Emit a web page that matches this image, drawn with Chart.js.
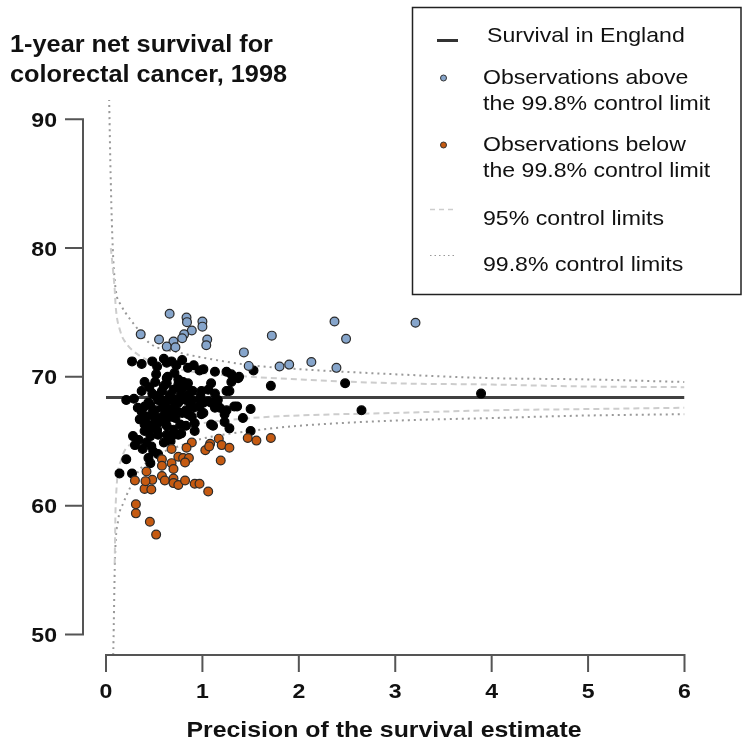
<!DOCTYPE html>
<html>
<head>
<meta charset="utf-8">
<title>1-year net survival for colorectal cancer, 1998</title>
<script src="https://cdn.jsdelivr.net/npm/chart.js@4.4.1/dist/chart.umd.min.js"></script>
<style>
    html, body { margin: 0; padding: 0; background: #fff; }
    #chart { display: block; }
</style>
</head>
<body>
<canvas id="chart" width="743" height="747"></canvas>
<script>
// values: [precision, survival %]
const xTicks = [0, 1, 2, 3, 4, 5, 6];
const yTicks = [50, 60, 70, 80, 90];
const englandSurvival = 68.4;

const abovePoints = [
    [0.66, 74.9], [0.835, 74.6], [0.84, 74.25], [1.0, 74.3], [1.0, 73.9], [0.89, 73.6],
    [0.36, 73.3], [0.81, 73.3], [0.79, 73.0], [0.55, 72.9], [0.70, 72.75], [1.05, 72.9],
    [1.04, 72.45], [0.63, 72.35], [0.72, 72.3], [1.43, 71.9], [1.48, 70.85], [1.72, 73.2],
    [1.80, 70.8], [1.90, 70.95], [2.13, 71.15], [2.37, 74.3], [2.49, 72.95], [2.39, 70.7],
    [3.21, 74.2]
];

const belowPoints = [
    [0.89, 64.9], [0.68, 64.4], [0.835, 64.5], [1.08, 64.8], [1.17, 65.2], [1.20, 64.7],
    [1.28, 64.5], [1.03, 64.3], [1.07, 64.6], [1.47, 65.25], [1.56, 65.05], [1.71, 65.25],
    [0.58, 63.6], [0.68, 63.3], [0.75, 63.8], [0.80, 63.7], [0.86, 63.7], [0.82, 63.35],
    [0.58, 63.1], [0.70, 62.85], [1.19, 63.5], [0.42, 62.65], [0.30, 61.95], [0.48, 62.0],
    [0.58, 62.3], [0.61, 61.95], [0.70, 62.1], [0.70, 61.75], [0.75, 61.6], [0.82, 61.95],
    [0.92, 61.7], [0.97, 61.7], [1.06, 61.1], [0.40, 61.3], [0.47, 61.25], [0.41, 61.9],
    [0.31, 60.1], [0.31, 59.4], [0.455, 58.75], [0.52, 57.75]
];

const withinPoints = [
    [0.27, 71.2], [0.37, 71.0], [0.48, 71.2], [0.53, 70.8], [0.60, 71.4], [0.63, 71.1],
    [0.68, 71.2], [0.73, 70.9], [0.79, 71.3], [0.85, 70.7], [0.91, 70.9], [0.97, 70.5],
    [1.01, 70.6], [1.13, 70.4], [1.25, 70.4], [1.30, 70.2], [1.37, 69.9], [1.53, 70.5],
    [0.64, 70.0], [0.71, 70.3], [0.75, 69.8], [0.52, 70.2], [0.85, 69.5], [0.40, 69.6],
    [0.51, 69.6], [0.63, 69.9], [0.63, 69.5], [0.75, 69.4], [0.80, 69.6], [0.84, 69.3],
    [0.78, 69.0], [1.09, 69.5], [1.30, 69.6], [1.38, 70.0], [1.71, 69.3], [2.48, 69.5],
    [0.37, 68.9], [0.48, 68.7], [0.58, 68.9], [0.66, 68.6], [0.77, 68.5], [0.85, 68.6],
    [0.90, 68.9], [0.99, 68.9], [1.06, 69.0], [1.13, 68.7], [1.25, 68.9], [1.28, 68.9],
    [0.21, 68.2], [0.29, 68.3], [0.54, 68.2], [0.58, 68.2], [0.64, 68.2], [0.68, 68.4],
    [0.80, 68.4], [0.83, 68.2], [0.89, 68.2], [0.97, 68.2], [0.98, 68.5], [1.06, 68.1],
    [1.16, 68.2], [3.89, 68.7],
    [0.40, 67.7], [0.46, 67.8], [0.51, 67.4], [0.58, 67.6], [0.63, 67.6], [0.68, 67.4],
    [0.73, 67.4], [0.83, 67.4], [0.91, 67.6], [0.97, 67.7], [1.01, 68.0], [1.01, 67.2],
    [1.09, 68.0], [1.13, 67.6], [1.18, 67.6], [1.25, 67.4], [1.33, 67.7], [1.36, 67.7],
    [1.50, 67.5], [2.65, 67.4],
    [0.37, 67.3], [0.42, 66.9], [0.48, 67.2], [0.56, 66.8], [0.61, 67.1], [0.68, 66.9],
    [0.79, 67.2], [0.85, 67.1], [0.89, 66.9], [0.99, 67.1], [1.23, 67.1], [1.42, 66.8],
    [0.35, 66.7], [0.42, 66.4], [0.49, 66.3], [0.56, 66.5], [0.63, 66.2], [0.70, 65.9],
    [0.77, 66.3], [0.83, 66.2], [0.92, 66.4], [1.09, 66.3], [1.11, 66.2], [1.23, 66.5],
    [1.28, 66.0], [1.50, 65.8],
    [0.28, 65.4], [0.40, 65.8], [0.46, 65.4], [0.54, 65.5], [0.63, 65.5], [0.68, 65.4],
    [0.75, 65.5], [0.78, 65.6], [0.92, 65.8],
    [0.30, 64.7], [0.42, 64.9], [0.47, 64.6], [0.49, 64.2], [0.54, 64.0], [0.60, 64.9],
    [0.67, 65.0], [0.21, 63.6], [0.44, 63.7], [0.46, 63.3], [0.14, 62.5], [0.27, 62.5],
    [0.44, 68.0], [0.50, 66.9], [0.60, 67.9], [0.71, 67.9], [0.53, 65.9], [0.62, 66.6],
    [0.72, 66.8], [0.40, 66.3], [0.46, 66.0], [0.52, 68.5], [0.75, 68.0], [0.88, 67.8],
    [0.45, 69.2], [0.60, 69.3], [0.70, 69.0], [0.34, 65.1], [0.38, 64.4], [0.33, 67.6]
];

const upper95 = [
    [0.05, 80.0], [0.07, 78.5], [0.09, 76.8], [0.1, 75.5], [0.15, 73.5], [0.2, 72.7],
    [0.3, 71.9], [0.5, 71.1], [0.75, 70.6], [1, 70.3], [1.5, 70.0], [2, 69.8], [3, 69.5],
    [4, 69.4], [5, 69.25], [6, 69.2]
];
const lower95 = [
    [0.09, 55.5], [0.095, 58.0], [0.1, 60.0], [0.16, 63.6], [0.28, 64.9], [0.5, 65.6],
    [1, 66.4], [1.5, 66.8], [2, 67.0], [3, 67.2], [4, 67.4], [5, 67.5], [6, 67.6]
];
const upper998 = [
    [0.03, 92.5], [0.05, 85.0], [0.07, 80.0], [0.093, 77.3], [0.114, 76.2], [0.145, 75.7],
    [0.2, 75.0], [0.3, 74.0], [0.455, 72.6], [0.75, 71.9], [1, 71.5], [1.5, 70.9],
    [2, 70.6], [3, 70.2], [4, 69.9], [5, 69.8], [6, 69.6]
];
const lower998 = [
    [0.07, 47.0], [0.076, 48.8], [0.093, 55.8], [0.127, 58.9], [0.18, 60.2], [0.25, 61.4],
    [0.33, 62.6], [0.5, 63.8], [0.75, 64.6], [1, 65.2], [1.5, 65.8], [2, 66.2], [3, 66.6],
    [4, 66.8], [5, 67.0], [6, 67.1]
];

(function () {
    'use strict';

    const FONT = '"Liberation Sans", Arial, sans-serif';
    const STRETCH = 1.1;
    const BLUE = '#86a5cb';
    const ORANGE = '#c55a11';
    const DASH_GREY = '#cdcdcd';
    const DOT_GREY = '#999999';

    function toPoints(pairs) {
        return pairs.map(function (p) {
            return { x: p[0], y: p[1] };
        });
    }

    function text(ctx, str, x, y, size, bold, align) {
        ctx.save();
        ctx.font = (bold ? 'bold ' : '') + size + 'px ' + FONT;
        ctx.textAlign = align || 'left';
        ctx.textBaseline = 'alphabetic';
        ctx.fillStyle = '#111';
        ctx.translate(x, y);
        ctx.scale(STRETCH, 1);
        ctx.fillText(str, 0, 0);
        ctx.restore();
    }

    function dot(ctx, x, y, r, fill) {
        ctx.beginPath();
        ctx.arc(x, y, r, 0, Math.PI * 2);
        ctx.fillStyle = fill;
        ctx.fill();
        ctx.lineWidth = 1;
        ctx.strokeStyle = '#333';
        ctx.stroke();
    }

    function seg(ctx, x1, x2, y, color, width, dash) {
        ctx.save();
        ctx.beginPath();
        ctx.setLineDash(dash || []);
        ctx.strokeStyle = color;
        ctx.lineWidth = width;
        ctx.moveTo(x1, y);
        ctx.lineTo(x2, y);
        ctx.stroke();
        ctx.restore();
    }

    // R-style detached axes, title and boxed legend
    const decorations = {
        id: 'decorations',
        afterDraw: function (chart) {
            const ctx = chart.ctx;
            const xs = chart.scales.x;
            const ys = chart.scales.y;
            const axisX = 83;
            const axisY = 655;

            ctx.save();
            ctx.strokeStyle = '#555';
            ctx.lineWidth = 2;
            ctx.beginPath();
            const yTop = ys.getPixelForValue(yTicks[yTicks.length - 1]);
            const yBot = ys.getPixelForValue(yTicks[0]);
            ctx.moveTo(65, yTop);
            ctx.lineTo(axisX, yTop);
            ctx.lineTo(axisX, yBot);
            ctx.lineTo(65, yBot);
            yTicks.slice(1, -1).forEach(function (v) {
                const p = ys.getPixelForValue(v);
                ctx.moveTo(65, p);
                ctx.lineTo(axisX, p);
            });
            const xL = xs.getPixelForValue(xTicks[0]);
            const xR = xs.getPixelForValue(xTicks[xTicks.length - 1]);
            ctx.moveTo(xL, 672);
            ctx.lineTo(xL, axisY);
            ctx.lineTo(xR, axisY);
            ctx.lineTo(xR, 672);
            xTicks.slice(1, -1).forEach(function (v) {
                const p = xs.getPixelForValue(v);
                ctx.moveTo(p, axisY);
                ctx.lineTo(p, 672);
            });
            ctx.stroke();
            ctx.restore();

            yTicks.forEach(function (v) {
                text(ctx, String(v), 57, ys.getPixelForValue(v) + 7.5, 21, true, 'right');
            });
            xTicks.forEach(function (v) {
                text(ctx, String(v), xs.getPixelForValue(v), 698, 21, true, 'center');
            });
            text(ctx, 'Precision of the survival estimate', 384, 737, 22.6, true, 'center');

            text(ctx, '1-year net survival for', 10, 52, 23, true);
            text(ctx, 'colorectal cancer, 1998', 10, 82, 23, true);

            // legend
            ctx.save();
            ctx.fillStyle = '#fff';
            ctx.fillRect(412.5, 7.5, 328.5, 287);
            ctx.strokeStyle = '#222';
            ctx.lineWidth = 1.5;
            ctx.strokeRect(412.5, 7.5, 328.5, 287);
            seg(ctx, 437, 458, 40.5, '#333', 3);
            dot(ctx, 443.5, 78, 3, BLUE);
            dot(ctx, 443.5, 145, 3, ORANGE);
            seg(ctx, 430, 454, 209.5, DASH_GREY, 1.5, [5, 4]);
            seg(ctx, 430, 454, 255.5, DOT_GREY, 1.2, [1.5, 3]);
            ctx.restore();
            text(ctx, 'Survival in England', 487, 42, 21, false);
            text(ctx, 'Observations above', 483, 84, 21, false);
            text(ctx, 'the 99.8% control limit', 483, 110, 21, false);
            text(ctx, 'Observations below', 483, 151, 21, false);
            text(ctx, 'the 99.8% control limit', 483, 177, 21, false);
            text(ctx, '95% control limits', 483, 225, 21, false);
            text(ctx, '99.8% control limits', 483, 271, 21, false);
        }
    };

    function limitLine(label, pairs, color, dash) {
        return {
            label: label,
            data: toPoints(pairs),
            showLine: true,
            borderColor: color,
            borderWidth: 2,
            borderDash: dash,
            pointRadius: 0,
            cubicInterpolationMode: 'monotone',
            clip: 0,
            order: 3
        };
    }

    function pointSet(label, pairs, fill, border, order) {
        return {
            label: label,
            data: toPoints(pairs),
            backgroundColor: fill,
            borderColor: border,
            borderWidth: 1.2,
            pointRadius: 4.4,
            clip: false,
            order: order
        };
    }

    new Chart(document.getElementById('chart'), {
        type: 'scatter',
        data: {
            datasets: [
                pointSet('Observations above the 99.8% control limit', abovePoints, BLUE, '#2a2a2a', 0),
                pointSet('Observations below the 99.8% control limit', belowPoints, ORANGE, '#2a2a2a', 0),
                pointSet('Within control limits', withinPoints, '#000', '#000', 1),
                {
                    label: 'Survival in England',
                    data: [
                        { x: xTicks[0], y: englandSurvival },
                        { x: xTicks[xTicks.length - 1], y: englandSurvival }
                    ],
                    showLine: true,
                    borderColor: '#404040',
                    borderWidth: 3,
                    pointRadius: 0,
                    order: 2
                },
                limitLine('95% upper', upper95, DASH_GREY, [6, 4]),
                limitLine('95% lower', lower95, DASH_GREY, [6, 4]),
                limitLine('99.8% upper', upper998, DOT_GREY, [2, 4]),
                limitLine('99.8% lower', lower998, DOT_GREY, [2, 4])
            ]
        },
        options: {
            responsive: false,
            animation: false,
            devicePixelRatio: 1,
            layout: { padding: { left: 106, right: 58.5, top: 100, bottom: 92 } },
            scales: {
                x: { type: 'linear', min: 0, max: 6, display: false },
                y: { type: 'linear', min: 48.4, max: 91.5, display: false }
            },
            plugins: {
                legend: { display: false },
                tooltip: { enabled: false }
            }
        },
        plugins: [decorations]
    });
})();
</script>
</body>
</html>
